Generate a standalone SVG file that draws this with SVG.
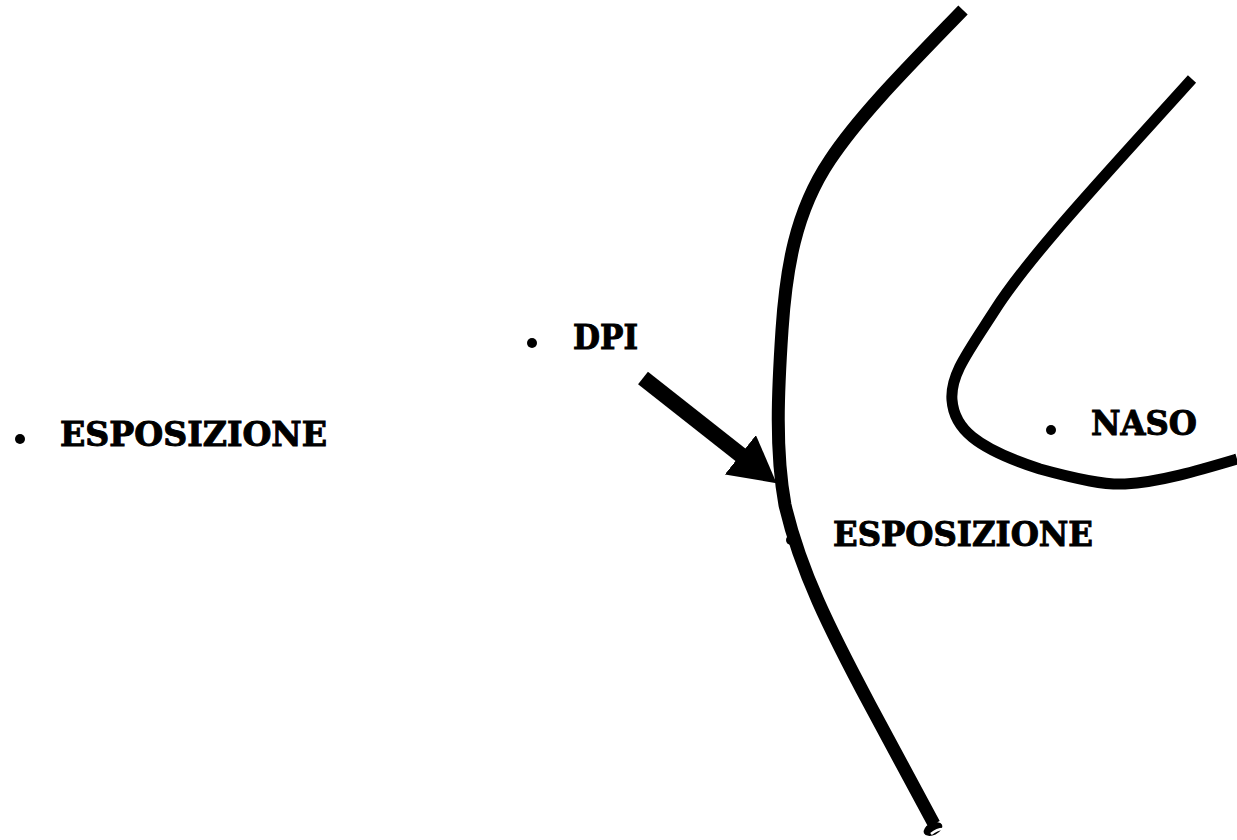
<svg xmlns="http://www.w3.org/2000/svg" width="1237" height="840" viewBox="0 0 1237 840">
<style>
.lbl{font-family:"DejaVu Serif","Liberation Serif",serif;font-weight:bold;font-size:33px;fill:#000;stroke:#000;stroke-width:1px}
.dot{fill:#000}
.curve{fill:none;stroke:#000;stroke-linecap:butt;stroke-linejoin:round}
</style>
<defs>
<marker id="ah" markerUnits="userSpaceOnUse" viewBox="0 0 46 50" markerWidth="46" markerHeight="50" refX="2" refY="25" orient="auto">
<path d="M0,0 L46,25 L0,50 z" fill="#000"/>
</marker>
</defs>
<rect width="1237" height="840" fill="#fff"/>
<g id="label-esposizione-left">
<circle class="dot" cx="20" cy="439" r="5"/>
<text class="lbl" x="60" y="446" textLength="267" lengthAdjust="spacingAndGlyphs">ESPOSIZIONE</text>
</g>
<g id="label-dpi">
<circle class="dot" cx="532" cy="343" r="5"/>
<text class="lbl" x="573" y="349" textLength="65" lengthAdjust="spacingAndGlyphs">DPI</text>
</g>
<g id="label-naso">
<circle class="dot" cx="1051" cy="430" r="5"/>
<text class="lbl" x="1091" y="435" textLength="106" lengthAdjust="spacingAndGlyphs">NASO</text>
</g>
<g id="label-esposizione-right">
<circle class="dot" cx="791" cy="540" r="5"/>
<text class="lbl" x="833" y="546" textLength="260" lengthAdjust="spacingAndGlyphs">ESPOSIZIONE</text>
</g>
<g id="curve-skin">
<path class="curve" stroke-width="13" d="M963,10 C905,70 860,115 830,160 C795,212 786,270 782,330 C778,390 775,450 785,505 C800,570 830,630 870,705 L934,824"/>
<ellipse cx="933" cy="829" rx="10" ry="6" transform="rotate(-25 933 829)" fill="#000"/>
<path d="M931,834 Q937,829 943,829" fill="none" stroke="#fff" stroke-width="2.5"/>
</g>
<g id="curve-naso">
<path class="curve" stroke-width="11" d="M1192,79 C1110,170 1030,255 995,310 C968,352 950,375 952,400 C954,428 975,448 1040,469 C1080,480 1105,485 1125,484 C1160,482 1200,470 1237,459"/>
</g>
<g id="connectors">
<line x1="643" y1="378" x2="742" y2="456" stroke="#000" stroke-width="16" marker-end="url(#ah)"/>
</g>
</svg>
